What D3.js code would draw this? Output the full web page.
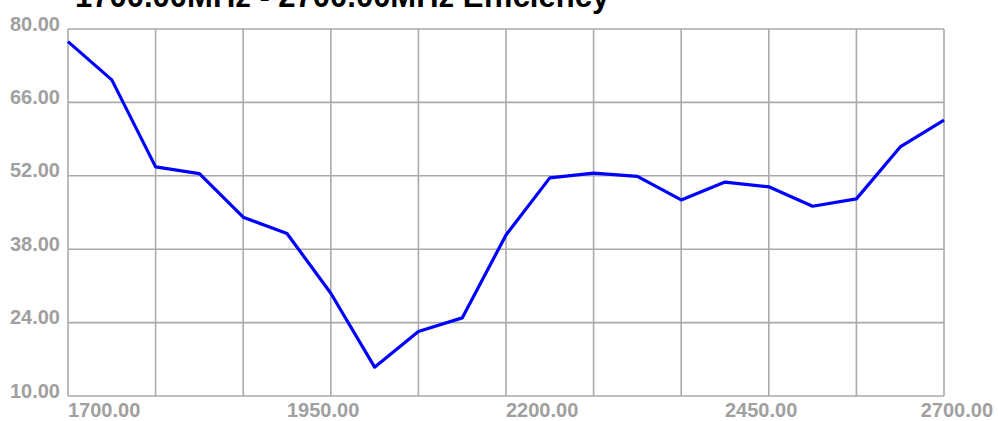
<!DOCTYPE html>
<html>
<head>
<meta charset="utf-8">
<script src="https://cdn.jsdelivr.net/npm/d3@7"></script>
<style>
  body { margin: 0; background: #fff; }
  svg { display: block; }
  .tick-label { font-family: "Liberation Sans", Arial, sans-serif; font-weight: bold; font-size: 20px; fill: #a0a0a0; }
  .title { font-family: "Liberation Sans", Arial, sans-serif; font-weight: bold; font-size: 31px; fill: #000; }
</style>
</head>
<body>
<svg id="chart" width="998" height="421"></svg>
<script>
// frequency (MHz) and efficiency (%)
var freqs = [1700, 1750, 1800, 1850, 1900, 1950, 2000, 2050, 2100, 2150, 2200,
             2250, 2300, 2350, 2400, 2450, 2500, 2550, 2600, 2650, 2700];
var effs  = [77.6, 70.3, 53.7, 52.4, 44.1, 41.0, 29.6, 15.5, 22.3, 24.9, 40.7,
             51.6, 52.5, 51.9, 47.4, 50.8, 49.9, 46.2, 47.6, 57.5, 62.6];

var xGridVals  = [1700, 1800, 1900, 2000, 2100, 2200, 2300, 2400, 2500, 2600, 2700];
var xLabelVals = [1700, 1950, 2200, 2450, 2700];
var yTickVals  = [10, 24, 38, 52, 66, 80];
var titleText  = "1700.00MHz - 2700.00MHz Efficiency";

var W = 998, H = 421;
var margin = {top: 29, right: 54, bottom: 25, left: 68};

var svg = d3.select("#chart");

var xscale = d3.scaleLinear().domain([1700, 2700]).range([margin.left, W - margin.right]);
var yscale = d3.scaleLinear().domain([10, 80]).range([H - margin.bottom, margin.top]);

// grid
var grid = svg.append("g").attr("stroke", "#aaaaaa").attr("stroke-width", 1.6);
grid.selectAll("line.v").data(xGridVals).enter().append("line")
    .attr("class", "v")
    .attr("x1", function(d) { return xscale(d); })
    .attr("x2", function(d) { return xscale(d); })
    .attr("y1", yscale(80)).attr("y2", yscale(10));
grid.selectAll("line.h").data(yTickVals).enter().append("line")
    .attr("class", "h")
    .attr("x1", xscale(1700)).attr("x2", xscale(2700))
    .attr("y1", function(d) { return yscale(d); })
    .attr("y2", function(d) { return yscale(d); });

// y labels
svg.selectAll("text.ylab").data(yTickVals).enter().append("text")
   .attr("class", "tick-label ylab")
   .attr("text-anchor", "end")
   .attr("x", xscale(1700) - 8)
   .attr("y", function(d) { return yscale(d) + 1.5; })
   .text(function(d) { return d.toFixed(2); });

// x labels, left aligned on their grid line, kept inside the picture
svg.selectAll("text.xlab").data(xLabelVals).enter().append("text")
   .attr("class", "tick-label xlab")
   .attr("y", yscale(10) + 21)
   .text(function(d) { return d.toFixed(2); })
   .attr("x", function(d) {
     var w = this.getComputedTextLength();
     return Math.min(xscale(d), W - 5 - w);
   });

// the curve
var line = d3.line()
    .x(function(d, i) { return xscale(freqs[i]); })
    .y(function(d) { return yscale(d); });

svg.append("path")
   .datum(effs)
   .attr("fill", "none")
   .attr("stroke", "#0000ff")
   .attr("stroke-width", 3.2)
   .attr("stroke-linejoin", "round")
   .attr("d", line);

// title, cut off at the top like the original
svg.append("text")
   .attr("class", "title")
   .attr("x", 75)
   .attr("y", 7)
   .text(titleText);
</script>
</body>
</html>
